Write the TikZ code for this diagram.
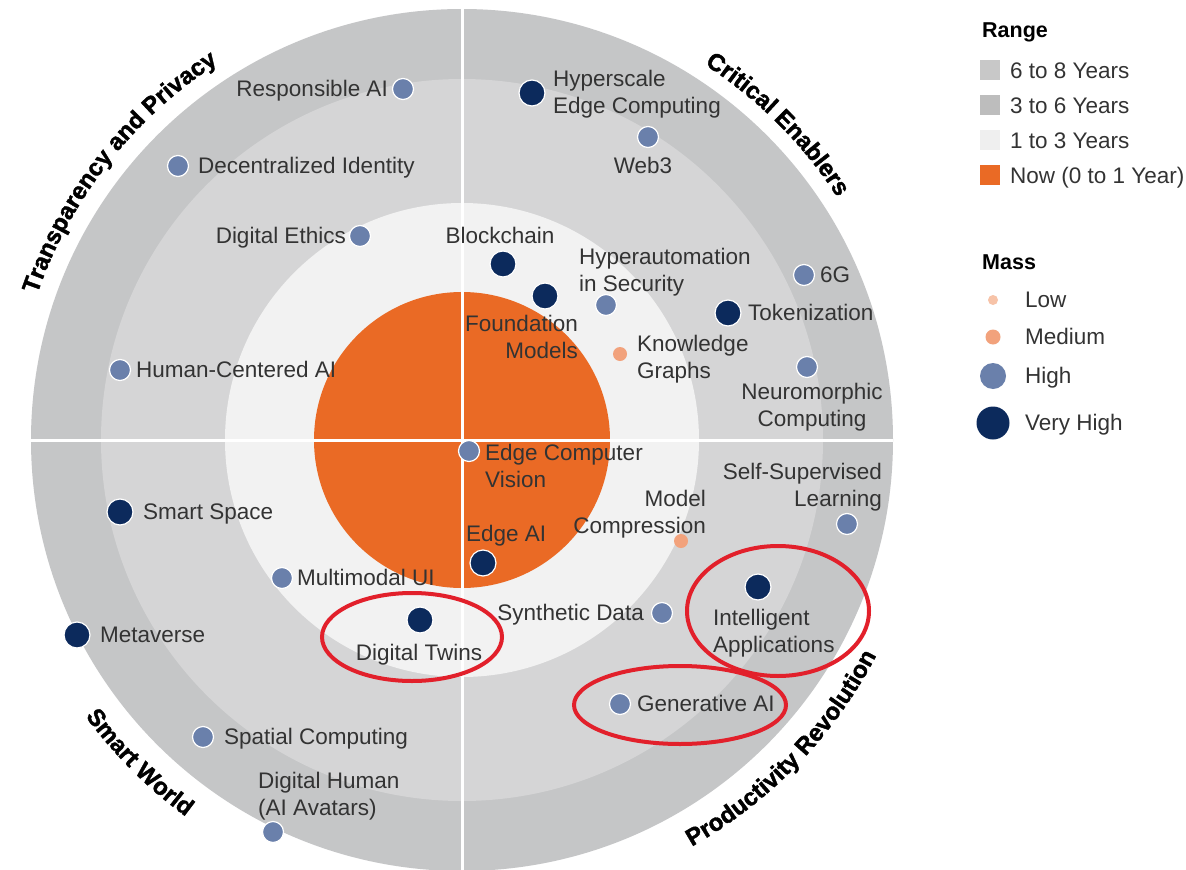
\documentclass[tikz,border=0pt]{standalone}
\usepackage{fontspec}
\setmainfont{Liberation Sans}
\newfontfamily\catfam{Liberation Sans Bold}[FakeBold=1.6]
\usetikzlibrary{decorations.text}
\definecolor{ringA}{HTML}{C5C6C7}
\definecolor{ringB}{HTML}{D5D5D6}
\definecolor{ringC}{HTML}{F2F2F2}
\definecolor{nowor}{HTML}{EA6A25}
\definecolor{vhigh}{HTML}{0C2A5C}
\definecolor{high}{HTML}{6A80AB}
\definecolor{med}{HTML}{F2A27C}
\definecolor{low}{HTML}{F7C3A8}
\definecolor{txt}{HTML}{333333}
\definecolor{redmark}{HTML}{E2202B}
\definecolor{sqA}{HTML}{C8C8C8}
\definecolor{sqB}{HTML}{BDBDBD}
\definecolor{sqC}{HTML}{EFEFEF}
\newcommand\catfont{\catfam\fontsize{24}{28}\selectfont}
\begin{document}
\begin{tikzpicture}[x=1pt,y=-1pt,
  lbl/.style={font=\fontsize{22.5}{26.5}\selectfont, text=txt, inner sep=0pt, text height=16pt, text depth=5pt},
  lbltwo/.style={font=\fontsize{22.5}{26.5}\selectfont, text=txt, inner sep=0pt},
  dotvh/.style={circle, fill=vhigh, draw=white, line width=1.2pt, minimum size=26pt, inner sep=0pt},
  doth/.style={circle, fill=high, draw=white, line width=1.2pt, minimum size=21pt, inner sep=0pt},
  dotm/.style={circle, fill=med, minimum size=14pt, inner sep=0pt},
  legsq/.style={rectangle, minimum size=20pt, inner sep=0pt},
  legtitle/.style={font=\fontsize{21.5}{25}\selectfont\bfseries, text=black, inner sep=0pt, anchor=west},
  divider/.style={white, line width=3pt},
  redring/.style={redmark, line width=4pt},
  cattext/.style={decorate, decoration={text along path, text align=center, text={|\catfont|#1}}}
]
\useasboundingbox (0,0) rectangle (1186,870);
\fill[white] (0,0) rectangle (1186,870);
\coordinate (C) at (462,440);
% rings
\fill[ringA] (C) circle (431pt);
\fill[ringB] (C) circle (361pt);
\fill[ringC] (C) circle (237pt);
\fill[nowor] (C) circle (148pt);
\coordinate (vt) at (462,9);
\coordinate (vb) at (462,871);
\coordinate (hl) at (31,440);
\coordinate (hr) at (893,440);
\draw[divider] (vt) -- (vb);
\draw[divider] (hl) -- (hr);

% category labels
\path[cattext={Transparency and Privacy}] ([shift={(178:449pt)}]C) arc[start angle=178, end angle=106, radius=449pt];
\path[cattext={Critical Enablers}] ([shift={(80:447pt)}]C) arc[start angle=80, end angle=10, radius=447pt];
\path[cattext={Smart World}] ([shift={(190:467pt)}]C) arc[start angle=190, end angle=260, radius=467pt];
\path[cattext={Productivity Revolution}] ([shift={(280:467pt)}]C) arc[start angle=280, end angle=352, radius=467pt];

% dots
\node[doth] (d-resp) at (403,89) {};
\node[doth] (d-decid) at (178,166) {};
\node[doth] (d-ethic) at (360,236) {};
\node[doth] (d-hcai) at (120,370) {};
\node[dotvh] (d-hyper) at (532,93) {};
\node[doth] (d-web3) at (648,137) {};
\node[dotvh] (d-block) at (503,264) {};
\node[dotvh] (d-found) at (545,296) {};
\node[doth] (d-hsec) at (606,305) {};
\node[dotm] (d-know) at (620,354) {};
\node[doth] (d-6g) at (804,275) {};
\node[dotvh] (d-token) at (728,313) {};
\node[doth] (d-neuro) at (807,367) {};
\node[doth] (d-ecv) at (469,451) {};
\node[dotvh] (d-edgeai) at (483,563) {};
\node[dotm] (d-mcomp) at (681,541) {};
\node[doth] (d-ssl) at (847,524) {};
\node[dotvh] (d-intel) at (758,587) {};
\node[doth] (d-synth) at (662,613) {};
\node[doth] (d-genai) at (620,704) {};
\node[dotvh] (d-twins) at (420,620) {};
\node[doth] (d-mmui) at (282,578) {};
\node[dotvh] (d-smart) at (120,512) {};
\node[dotvh] (d-meta) at (77,635) {};
\node[doth] (d-spat) at (203,737) {};
\node[doth] (d-dhum) at (273,832) {};

% labels
\node[lbl, anchor=east] (l-resp) at (388,91) {Responsible AI};
\node[lbl, anchor=west] (l-decid) at (198,168) {Decentralized Identity};
\node[lbl, anchor=east] (l-ethic) at (346,238) {Digital Ethics};
\node[lbl, anchor=west] (l-hcai) at (136,372) {Human-Centered AI};
\node[lbltwo, anchor=north west, align=left] (l-hyper) at (553,68) {\strut Hyperscale\\\strut Edge Computing};
\node[lbl] (l-web3) at (643,168) {Web3};
\node[lbl] (l-block) at (500,238) {Blockchain};
\node[lbltwo, anchor=north east, align=right] (l-found) at (578,313) {\strut Foundation\\\strut Models};
\node[lbltwo, anchor=north west, align=left] (l-hsec) at (579,246) {\strut Hyperautomation\\\strut in Security};
\node[lbltwo, anchor=north west, align=left] (l-know) at (637,333) {\strut Knowledge\\\strut Graphs};
\node[lbl, anchor=west] (l-6g) at (820,277) {6G};
\node[lbl, anchor=west] (l-token) at (748,315) {Tokenization};
\node[lbltwo, anchor=north, align=center] (l-neuro) at (812,381) {\strut Neuromorphic\\\strut Computing};
\node[lbltwo, anchor=north west, align=left] (l-ecv) at (485,442) {\strut Edge Computer\\\strut Vision};
\node[lbl, anchor=west] (l-edgeai) at (466,536) {Edge AI};
\node[lbltwo, anchor=north east, align=right] (l-mcomp) at (706,488) {\strut Model\\\strut Compression};
\node[lbltwo, anchor=north east, align=right] (l-ssl) at (882,461) {\strut Self-Supervised\\\strut Learning};
\node[lbltwo, anchor=north west, align=left] (l-intel) at (713,607) {\strut Intelligent\\\strut Applications};
\node[lbl, anchor=east] (l-synth) at (644,615) {Synthetic Data};
\node[lbl, anchor=west] (l-genai) at (637,706) {Generative AI};
\node[lbl] (l-twins) at (419,655) {Digital Twins};
\node[lbl, anchor=west] (l-mmui) at (297,580) {Multimodal UI};
\node[lbl, anchor=west] (l-smart) at (143,514) {Smart Space};
\node[lbl, anchor=west] (l-meta) at (100,637) {Metaverse};
\node[lbl, anchor=west] (l-spat) at (224,739) {Spatial Computing};
\node[lbltwo, anchor=north west, align=left] (l-dhum) at (258,770) {\strut Digital Human\\\strut (AI Avatars)};

% red highlight rings
\draw[redring] (412,637) ellipse [x radius=90pt, y radius=44pt];
\draw[redring] (778,611) ellipse [x radius=91pt, y radius=65pt];
\draw[redring] (680,705) ellipse [x radius=106pt, y radius=39pt];

% legend
\node[legtitle] (range) at (982,32) {Range};
\node[legsq, fill=sqA] (sq1) at (990,70) {};
\node[legsq, fill=sqB] (sq2) at (990,105) {};
\node[legsq, fill=sqC] (sq3) at (990,140) {};
\node[legsq, fill=nowor] (sq4) at (990,175) {};
\node[lbl, anchor=west] (t1) at (1010,73) {6 to 8 Years};
\node[lbl, anchor=west] (t2) at (1010,108) {3 to 6 Years};
\node[lbl, anchor=west] (t3) at (1010,143) {1 to 3 Years};
\node[lbl, anchor=west] (t4) at (1010,178) {Now (0 to 1 Year)};
\node[legtitle] (mass) at (982,262) {Mass};
\node[circle, fill=low, minimum size=10pt, inner sep=0pt] (m1) at (993,300) {};
\node[circle, fill=med, minimum size=15pt, inner sep=0pt] (m2) at (993,337) {};
\node[circle, fill=high, minimum size=26pt, inner sep=0pt] (m3) at (993,376) {};
\node[circle, fill=vhigh, minimum size=33pt, inner sep=0pt] (m4) at (993,423) {};
\node[lbl, anchor=west] (mt1) at (1025,302) {Low};
\node[lbl, anchor=west] (mt2) at (1025,339) {Medium};
\node[lbl, anchor=west] (mt3) at (1025,378) {High};
\node[lbl, anchor=west] (mt4) at (1025,425) {Very High};
\end{tikzpicture}
\end{document}
